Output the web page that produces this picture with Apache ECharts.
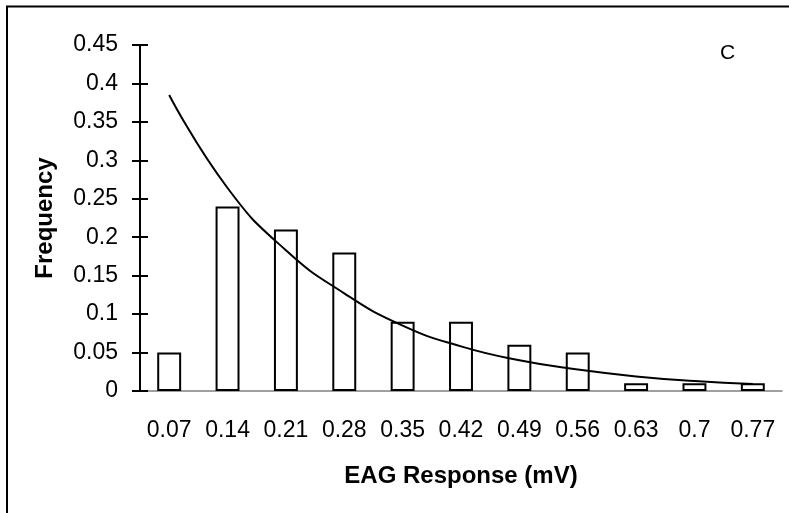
<!DOCTYPE html>
<html>
<head>
<meta charset="utf-8">
<script src="https://cdn.jsdelivr.net/npm/echarts@6/dist/echarts.min.js"></script>
<style>
  html, body { margin: 0; padding: 0; background: #fff; }
  #chart { width: 789px; height: 513px; }
</style>
</head>
<body>
<div id="chart"></div>
<script>
// EAG response classes (mV)
var categories = ['0.07', '0.14', '0.21', '0.28', '0.35', '0.42', '0.49', '0.56', '0.63', '0.7', '0.77'];
// observed frequency (bars)
var frequency = [0.05, 0.24, 0.21, 0.18, 0.09, 0.09, 0.06, 0.05, 0.01, 0.01, 0.01];
// fitted curve
var fitted = [0.385, 0.264, 0.183, 0.127, 0.085, 0.058, 0.040, 0.028, 0.019, 0.013, 0.009];

var myChart = echarts.init(document.getElementById('chart'));
var font = 'Liberation Sans, Arial, sans-serif';

var option = {
    animation: false,
    backgroundColor: '#fff',
    grid: { left: 140, right: 7, top: 45, bottom: 122 },
    xAxis: [
        {
            type: 'category',
            data: categories,
            boundaryGap: true,
            name: 'EAG Response (mV)',
            nameLocation: 'middle',
            nameGap: 73,
            nameTextStyle: { fontFamily: font, fontSize: 24, fontWeight: 'bold', color: '#000' },
            axisLine: { lineStyle: { color: '#808080', width: 1.5 } },
            axisTick: { length: 9, lineStyle: { color: '#444', width: 1 } },
            axisLabel: { margin: 28, fontFamily: font, fontSize: 23, color: '#000' },
            splitLine: { show: false }
        },
        {
            // second axis only to draw the upper half of the crossing ticks
            type: 'category',
            data: categories,
            position: 'bottom',
            boundaryGap: true,
            axisLine: { show: false },
            axisTick: { inside: true, length: 8, lineStyle: { color: '#444', width: 1 } },
            axisLabel: { show: false },
            splitLine: { show: false }
        }
    ],
    yAxis: [
        {
            type: 'value',
            min: 0,
            max: 0.45,
            interval: 0.05,
            name: 'Frequency',
            nameLocation: 'middle',
            nameGap: 83,
            nameTextStyle: { fontFamily: font, fontSize: 24, fontWeight: 'bold', color: '#000' },
            axisLine: { show: true, lineStyle: { color: '#000', width: 2 } },
            axisTick: { show: true, length: 8, lineStyle: { color: '#000', width: 2 } },
            axisLabel: {
                margin: 22, fontFamily: font, fontSize: 23, color: '#000',
                formatter: function (v) { return String(+v.toFixed(2)); }
            },
            splitLine: { show: false }
        },
        {
            type: 'value',
            min: 0,
            max: 0.45,
            interval: 0.05,
            position: 'left',
            axisLine: { show: false },
            axisTick: { show: true, inside: true, length: 8, lineStyle: { color: '#000', width: 2 } },
            axisLabel: { show: false },
            splitLine: { show: false }
        }
    ],
    series: [
        {
            name: 'frequency',
            type: 'bar',
            data: frequency,
            barWidth: '41%',
            itemStyle: { color: '#fff', borderColor: '#000', borderWidth: 2 },
            z: 2
        },
        {
            name: 'fit',
            type: 'line',
            data: fitted,
            smooth: true,
            symbol: 'none',
            lineStyle: { color: '#000', width: 2 },
            z: 3
        }
    ],
    graphic: [
        { type: 'line', shape: { x1: 6, y1: 6.5, x2: 789, y2: 6.5 }, style: { stroke: '#000', lineWidth: 2 } },
        { type: 'line', shape: { x1: 7, y1: 6, x2: 7, y2: 513 }, style: { stroke: '#000', lineWidth: 2 } },
        { type: 'text', left: 720, top: 43, style: { text: 'C', fontFamily: font, fontSize: 21, fill: '#000' } }
    ]
};
myChart.setOption(option);
</script>
</body>
</html>
